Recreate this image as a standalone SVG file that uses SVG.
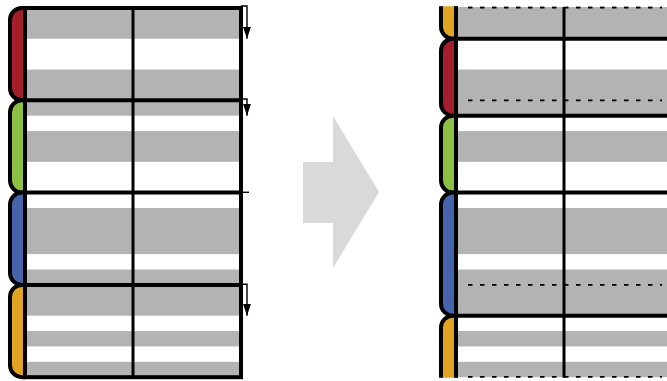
<svg xmlns="http://www.w3.org/2000/svg" width="667" height="381" viewBox="0 0 667 381">
<style>
.g{fill:#b3b3b3}
.ln{stroke:#000;stroke-width:4;fill:none}
.mid{stroke:#000;stroke-width:3;fill:none}
.tab{stroke:#000;stroke-width:4;stroke-linejoin:round}
.red{fill:#a51e2c}.grn{fill:#8cc043}.blu{fill:#4564ab}.org{fill:#e1a322}
.dash{stroke:#000;stroke-width:1.8;stroke-dasharray:4.5 7.5;fill:none}
.arr{stroke:#000;stroke-width:1.4;fill:none}
</style>
<defs>
<marker id="ah" viewBox="0 0 12 8" refX="12" refY="4" markerWidth="12" markerHeight="8" markerUnits="userSpaceOnUse" orient="auto">
<path d="M0,0 L12,4 L0,8 Z" fill="#000"/>
</marker>
<clipPath id="rc"><rect x="430" y="6.2" width="240" height="371.6"/></clipPath>
</defs>
<rect width="667" height="381" fill="#fff"/>

<g id="left-panel">
<g id="left-bands">
<rect class="g" x="25" y="8" width="216" height="30.77"/>
<rect class="g" x="25" y="69.53" width="216" height="46.15"/>
<rect class="g" x="25" y="131.07" width="216" height="30.77"/>
<rect class="g" x="25" y="207.98" width="216" height="46.15"/>
<rect class="g" x="25" y="269.52" width="216" height="46.15"/>
<rect class="g" x="25" y="331.05" width="216" height="15.38"/>
<rect class="g" x="25" y="361.82" width="216" height="15.38"/>
</g>
<line class="mid" x1="133" y1="8" x2="133" y2="377.2"/>
<line class="ln" x1="25" y1="100.3" x2="241" y2="100.3"/>
<line class="ln" x1="25" y1="192.6" x2="241" y2="192.6"/>
<line class="ln" x1="25" y1="284.9" x2="241" y2="284.9"/>
<rect class="ln" x="25" y="8" width="216" height="369.2"/>
<g id="L-red"><path class="tab red" d="M25,8 H22 A12 12 0 0 0 10,20 V88.3 A12 12 0 0 0 22,100.3 H25 Z"/></g>
<g id="L-green"><path class="tab grn" d="M25,100.3 H22 A12 12 0 0 0 10,112.3 V180.6 A12 12 0 0 0 22,192.6 H25 Z"/></g>
<g id="L-blue"><path class="tab blu" d="M25,192.6 H22 A12 12 0 0 0 10,204.6 V272.9 A12 12 0 0 0 22,284.9 H25 Z"/></g>
<g id="L-orange"><path class="tab org" d="M25,284.9 H22 A12 12 0 0 0 10,296.9 V365.2 A12 12 0 0 0 22,377.2 H25 Z"/></g>
</g>

<g id="connectors">
<path class="arr" d="M241,6 H247 V38.8" marker-end="url(#ah)"/>
<path class="arr" d="M241,99 H247 V115.7" marker-end="url(#ah)"/>
<path class="arr" d="M241,192.3 H249"/>
<path class="arr" d="M241,284.3 H247 V315.7" marker-end="url(#ah)"/>
</g>

<g id="big-arrow">
<polygon points="303,162 333,162 333,116 379,192 333,268 333,223 303,223" fill="#d9d9d9"/>
</g>

<g id="right-panel" clip-path="url(#rc)">
<g id="right-bands">
<rect class="g" x="456" y="7" width="215" height="31.77"/>
<rect class="g" x="456" y="69.53" width="215" height="46.15"/>
<rect class="g" x="456" y="131.07" width="215" height="30.77"/>
<rect class="g" x="456" y="207.98" width="215" height="46.15"/>
<rect class="g" x="456" y="269.52" width="215" height="46.15"/>
<rect class="g" x="456" y="331.05" width="215" height="15.38"/>
<rect class="g" x="456" y="361.82" width="215" height="15.38"/>
</g>
<line class="dash" x1="468" y1="7.5" x2="662" y2="7.5"/>
<line class="dash" x1="468" y1="100.3" x2="662" y2="100.3"/>
<line class="dash" x1="468" y1="284.9" x2="662" y2="284.9"/>
<line class="dash" x1="468" y1="377" x2="662" y2="377"/>
<line class="mid" x1="564" y1="7" x2="564" y2="378"/>
<line class="ln" x1="456" y1="38.77" x2="672" y2="38.77"/>
<line class="ln" x1="456" y1="115.68" x2="672" y2="115.68"/>
<line class="ln" x1="456" y1="192.6" x2="672" y2="192.6"/>
<line class="ln" x1="456" y1="315.67" x2="672" y2="315.67"/>
<line class="ln" x1="456" y1="0" x2="456" y2="381"/>
<g id="R-orange-top"><path class="tab org" d="M456,-30 H453 A12 12 0 0 0 441,-18 V26.77 A12 12 0 0 0 453,38.77 H456 Z"/></g>
<g id="R-red"><path class="tab red" d="M456,38.77 H453 A12 12 0 0 0 441,50.77 V103.68 A12 12 0 0 0 453,115.68 H456 Z"/></g>
<g id="R-green"><path class="tab grn" d="M456,115.68 H453 A12 12 0 0 0 441,127.68 V180.6 A12 12 0 0 0 453,192.6 H456 Z"/></g>
<g id="R-blue"><path class="tab blu" d="M456,192.6 H453 A12 12 0 0 0 441,204.6 V303.67 A12 12 0 0 0 453,315.67 H456 Z"/></g>
<g id="R-orange-bottom"><path class="tab org" d="M456,315.67 H453 A12 12 0 0 0 441,327.67 V408 A12 12 0 0 0 453,420 H456 Z"/></g>
</g>
</svg>
